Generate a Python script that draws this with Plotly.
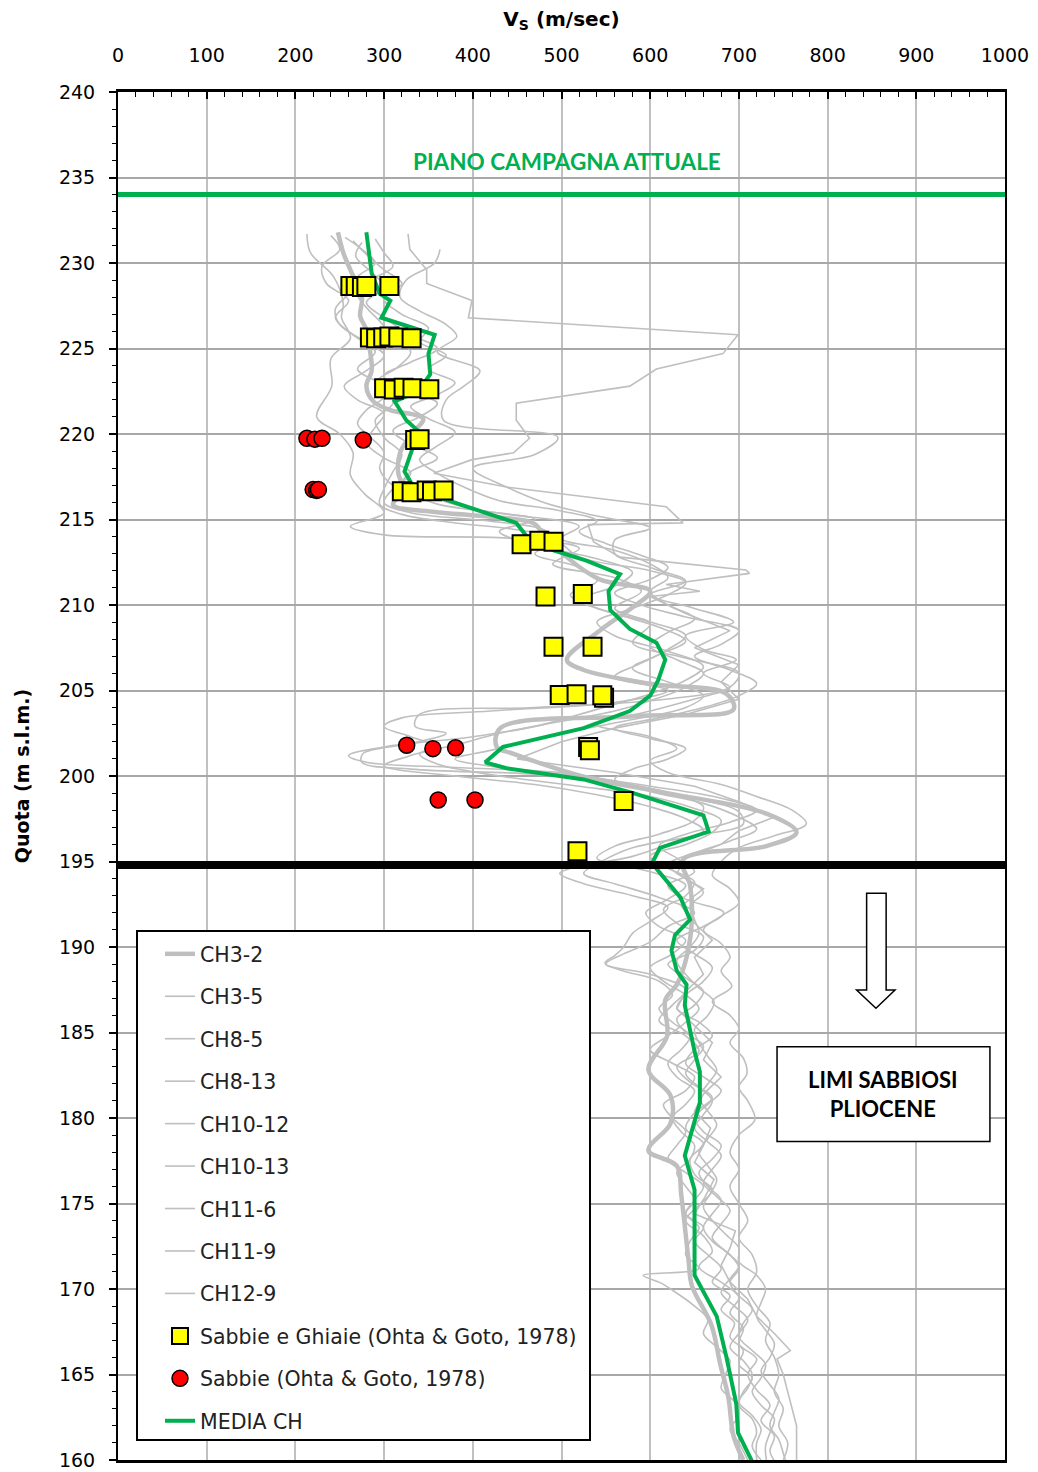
import plotly.graph_objects as go

# ---------------- DATA ----------------
# Shear-wave velocity profiles (Vs in m/s) versus elevation (m s.l.m.)
CH3_2_DEPTH = [231.8, 230.6, 229.6, 228.0, 226.9, 226.1, 224.9, 223.7, 222.8, 221.9,
               221.4, 220.9, 220.0, 218.9, 217.7, 216.7, 215.85, 215.45, 214.8, 214.4,
               212.8, 211.5, 210.8, 209.9, 208.5, 206.8, 206.2, 205.4, 204.8, 203.9,
               203.5, 202.8, 201.7, 201.3, 199.96, 199.0, 197.8, 196.7, 195.9, 195.1,
               193.6, 191.6, 189.4, 187.8, 186.9, 184.8, 182.8, 181.3, 179.7, 178.1,
               177.2, 175.5, 171.8, 170.2, 167.9, 165.6, 163.7, 161.4, 160.0]
CH3_2_VS = [248, 254, 262, 275, 273, 280, 284, 286, 280, 288,
            307, 344, 331, 318, 316, 322, 310, 355, 468, 476,
            506, 543, 600, 581, 543, 506, 525, 600, 686, 694,
            581, 431, 427, 446, 525, 619, 731, 765, 731, 637,
            645, 647, 641, 630, 617, 619, 598, 623, 623, 598,
            630, 635, 643, 647, 669, 679, 688, 694, 705]

CH3_5_DEPTH = [231.7, 230.6, 229.2, 227.6, 226.8, 225.6, 224.4, 222.8, 221.0, 220.0,
               218.9, 217.6, 216.5, 215.4, 214.6, 214.1, 213.9, 213.3, 212.4, 211.6,
               210.8, 209.8, 208.9, 207.8, 206.9, 206.0, 205.2, 204.5, 204.0, 203.6,
               202.9, 202.5, 201.9, 201.3, 200.8, 200.4, 200.1, 199.6, 198.8, 197.9,
               197.2, 196.5, 195.8, 195.0, 194.3, 193.7, 192.9, 192.0, 191.2, 190.3,
               189.6, 189.0, 188.4, 187.5, 186.6, 185.7, 184.8, 183.9, 183.0, 182.1,
               181.2, 180.3, 179.4, 178.5, 177.6, 176.7, 175.8, 174.9, 174.0, 173.1,
               172.2, 171.3, 170.4, 169.5, 168.6, 167.7, 166.8, 165.9, 165.0, 164.1,
               163.2, 162.3, 161.4, 160.5, 159.6]
CH3_5_VS = [213, 217, 243, 254, 252, 262, 240, 241, 224, 250,
            265, 262, 278, 300, 262, 300, 440, 520, 490, 560,
            590, 560, 600, 580, 640, 700, 690, 620, 470, 340,
            335, 370, 330, 276, 275, 330, 470, 560, 640, 700,
            705, 650, 580, 545, 525, 560, 610, 650, 620, 600,
            570, 550, 600, 640, 625, 610, 640, 655, 630, 645,
            670, 650, 640, 660, 645, 650, 670, 655, 640, 660,
            670, 655, 680, 700, 690, 705, 700, 720, 710, 720,
            735, 725, 740, 735, 745]

CH8_5_DEPTH = [231.5, 230.8, 230.0, 229.2, 228.3, 227.3, 226.4, 225.5, 224.6, 223.7,
               222.8, 222.0, 221.2, 220.4, 219.5, 218.6, 217.7, 216.8, 216.0, 215.4,
               214.9, 214.4, 213.6, 212.8, 212.0, 211.3, 210.6, 209.8, 209.0, 208.2,
               207.3, 206.4, 205.6, 204.8, 204.2, 203.6, 202.9, 202.3, 201.7, 201.2,
               200.8, 200.5, 200.2, 199.7, 199.0, 198.2, 197.4, 196.6, 195.9, 195.2,
               194.4, 193.6, 192.8, 192.0, 191.2, 190.4, 189.6, 188.8, 188.0, 187.2,
               186.4, 185.6, 184.8, 184.0, 183.2, 182.4, 181.6, 180.8, 180.0, 179.2,
               178.4, 177.6, 176.8, 176.0, 175.2, 174.4, 173.6, 172.8, 172.0, 171.2,
               170.4, 169.6, 168.8, 168.0, 167.2, 166.4, 165.6, 164.8, 164.0, 163.2,
               162.4, 161.6, 160.8, 160.0]
CH8_5_VS = [256, 275, 290, 270, 262, 245, 250, 275, 300, 280,
            255, 270, 300, 290, 280, 300, 330, 310, 300, 330,
            420, 480, 500, 520, 600, 640, 620, 580, 540, 560,
            620, 660, 640, 600, 560, 520, 470, 400, 300, 260,
            280, 380, 500, 560, 620, 660, 650, 610, 560, 540,
            600, 640, 620, 595, 610, 640, 625, 600, 615, 640,
            655, 640, 620, 600, 625, 650, 640, 615, 625, 640,
            630, 620, 640, 660, 650, 640, 660, 650, 665, 680,
            670, 690, 680, 695, 690, 705, 700, 715, 705, 700,
            715, 720, 715, 725]

CH8_13_DEPTH = [231.7, 230.8, 229.6, 228.8, 227.8, 226.8, 225.8, 224.7, 223.8, 222.8,
                221.8, 220.8, 219.75, 218.9, 218.5, 217.7, 216.9, 215.75, 214.8, 214.7,
                213.7, 212.8, 212.05, 211.85, 211.2, 210.8, 210.5, 209.5, 208.5, 207.5,
                206.5, 205.5, 204.5, 203.6, 202.8, 202.0, 201.0, 200.2, 199.4, 198.5,
                197.6, 196.8, 196.0, 195.2, 194.3, 193.4, 192.4, 191.4, 190.4, 189.4,
                188.4, 187.4, 186.4, 185.4, 184.4, 183.4, 182.4, 181.4, 180.4, 179.4,
                178.4, 177.4, 176.4, 175.4, 174.4, 173.4, 172.4, 171.4, 170.4, 169.4,
                168.4, 167.4, 166.4, 165.9, 165.0, 164.0, 163.0, 162.0, 161.0, 160.0]
CH8_13_VS = [327, 329, 348, 348, 399, 395, 699, 682, 607, 577,
             449, 449, 464, 446, 399, 356, 438, 618, 637, 530,
             536, 566, 708, 712, 618, 656, 600, 640, 690, 650,
             700, 680, 700, 640, 560, 500, 450, 560, 650, 700,
             740, 700, 680, 640, 630, 660, 635, 650, 670, 650,
             660, 640, 630, 650, 670, 660, 680, 660, 650, 668,
             660, 650, 672, 662, 650, 696, 690, 680, 690, 710,
             720, 740, 758, 743, 750, 755, 760, 765, 765, 765]

CH10_12_DEPTH = [231.2, 230.4, 229.5, 228.6, 227.7, 226.8, 225.8, 225.0, 224.2, 223.4,
                 222.6, 221.8, 221.0, 220.2, 219.4, 218.6, 217.8, 217.0, 216.2, 215.6,
                 215.0, 214.3, 213.5, 212.7, 211.9, 211.1, 210.3, 209.5, 208.7, 207.9,
                 207.1, 206.3, 205.5, 204.7, 204.0, 203.3, 202.7, 202.1, 201.5, 201.0,
                 200.5, 200.0, 199.4, 198.7, 198.0, 197.3, 196.6, 195.9, 195.2, 194.4,
                 193.6, 192.8, 192.0, 191.2, 190.4, 189.6, 188.8, 188.0, 187.2, 186.4,
                 185.6, 184.8, 184.0, 183.2, 182.4, 181.6, 180.8, 180.0, 179.2, 178.4,
                 177.6, 176.8, 176.0, 175.2, 174.4, 173.6, 172.8, 172.0, 171.2, 170.4,
                 169.6, 168.8, 168.0, 167.2, 166.4, 165.6, 164.8, 164.0, 163.2, 162.4,
                 161.6, 160.8, 160.0]
CH10_12_VS = [275, 268, 285, 300, 280, 300, 330, 360, 330, 300,
              320, 360, 340, 310, 330, 360, 330, 320, 360, 400,
              470, 430, 470, 540, 580, 560, 520, 560, 610, 640,
              610, 580, 620, 660, 640, 580, 520, 470, 420, 380,
              430, 520, 600, 680, 720, 690, 640, 610, 630, 650,
              620, 640, 683, 660, 630, 650, 670, 660, 640, 630,
              655, 670, 650, 640, 660, 680, 665, 650, 660, 680,
              670, 655, 665, 680, 670, 660, 670, 690, 700, 690,
              700, 715, 705, 700, 715, 730, 725, 715, 725, 740,
              735, 730, 731]

CH10_13_DEPTH = [230.8, 230.0, 229.0, 228.0, 227.2, 226.4, 225.7, 224.8, 223.7, 222.8,
                 222.0, 220.8, 219.8, 218.8, 218.0, 216.9, 216.0, 215.2, 214.5, 213.8,
                 213.0, 212.2, 211.4, 210.6, 209.8, 209.0, 208.2, 207.4, 206.8, 206.0,
                 205.2, 204.5, 203.8, 203.0, 202.3, 201.6, 200.9, 200.2, 199.5, 198.8,
                 198.0, 197.2, 196.5, 195.8, 195.0, 194.2, 193.4, 192.6, 191.8, 191.0,
                 190.2, 189.4, 188.6, 187.7, 186.8, 186.0, 185.2, 184.4, 183.5, 182.6,
                 181.8, 181.0, 179.9, 179.0, 178.0, 177.0, 176.0, 175.0, 174.0, 173.0,
                 172.0, 171.0, 170.0, 169.0, 168.0, 167.0, 166.0, 165.0, 164.0, 163.0,
                 162.0, 161.0, 160.0]
CH10_13_VS = [363, 357, 325, 318, 340, 370, 382, 360, 408, 390,
              370, 367, 496, 470, 400, 438, 480, 540, 600, 560,
              560, 600, 640, 600, 650, 694, 640, 660, 697, 660,
              690, 650, 600, 540, 600, 630, 600, 620, 680, 720,
              760, 776, 740, 700, 680, 670, 690, 700, 680, 660,
              680, 690, 680, 692, 670, 690, 700, 690, 705, 709,
              700, 710, 718, 700, 690, 700, 690, 700, 710, 700,
              715, 720, 710, 720, 735, 730, 740, 745, 740, 750,
              745, 755, 750]

CH11_6_DEPTH = [231.6, 230.8, 229.8, 228.8, 227.8, 226.8, 225.8, 224.8, 223.8, 222.8,
                221.8, 220.8, 219.8, 218.8, 217.8, 216.8, 215.9, 215.3, 214.8, 214.4,
                213.8, 213.0, 212.2, 211.4, 210.6, 209.8, 209.0, 208.2, 207.4, 206.6,
                205.8, 205.0, 204.3, 203.8, 203.4, 202.9, 202.3, 201.7, 201.2, 200.6,
                200.0, 199.5, 198.9, 198.2, 197.5, 196.8, 196.0, 195.3, 194.6, 194.3,
                193.7, 193.0, 192.3, 191.5, 190.8, 190.0, 189.5, 189.05, 188.6, 188.0,
                187.2, 186.4, 185.6, 184.8, 184.0, 183.2, 182.4, 181.6, 180.8, 180.0,
                179.2, 178.4, 177.6, 176.8, 176.0, 175.2, 174.4, 173.6, 172.8, 172.0,
                171.2, 170.8, 170.4, 169.9, 169.0, 168.2, 167.4, 166.6, 165.8, 165.0,
                164.2, 163.4, 162.6, 161.8, 161.0, 160.0]
CH11_6_VS = [240, 250, 230, 235, 260, 245, 265, 290, 270, 300,
             310, 290, 300, 320, 310, 300, 295, 320, 380, 450,
             500, 470, 520, 540, 510, 540, 600, 640, 620, 590,
             560, 620, 560, 420, 320, 300, 330, 360, 330, 300,
             380, 470, 540, 600, 640, 660, 620, 580, 510, 498,
             525, 580, 620, 600, 580, 570, 560, 549, 570, 610,
             625, 610, 625, 645, 635, 620, 630, 650, 640, 625,
             635, 650, 645, 630, 640, 650, 640, 655, 645, 640,
             655, 592, 610, 626, 650, 665, 660, 675, 690, 685,
             680, 695, 700, 690, 700, 710]

CH11_9_DEPTH = [231.4, 230.6, 229.8, 229.0, 228.2, 227.4, 226.6, 225.7, 224.8, 223.9,
                223.0, 222.2, 221.4, 220.6, 219.8, 218.9, 218.0, 217.2, 216.5, 215.9,
                215.3, 214.6, 213.9, 213.2, 212.4, 211.6, 210.8, 210.0, 209.2, 208.4,
                207.6, 206.8, 206.0, 205.2, 204.4, 203.8, 203.2, 202.5, 201.8, 201.3,
                200.7, 200.0, 199.4, 198.8, 198.1, 197.4, 196.7, 196.0, 195.3, 194.6,
                193.8, 193.0, 192.2, 191.4, 190.6, 189.8, 189.0, 188.2, 187.4, 186.6,
                185.8, 185.0, 184.2, 183.4, 182.6, 181.8, 181.0, 180.2, 179.4, 178.6,
                177.8, 177.0, 176.2, 175.4, 174.6, 173.8, 173.0, 172.2, 171.4, 170.6,
                169.8, 169.0, 168.2, 167.4, 166.6, 165.8, 165.0, 164.2, 163.4, 162.6,
                161.8, 161.0, 160.0]
CH11_9_VS = [290, 300, 310, 285, 270, 280, 295, 310, 330, 315,
             290, 300, 280, 270, 285, 300, 295, 305, 330, 360,
             440, 520, 500, 560, 600, 620, 600, 620, 650, 620,
             600, 630, 660, 640, 600, 560, 500, 430, 380, 340,
             360, 430, 520, 600, 650, 680, 670, 640, 600, 620,
             650, 640, 615, 630, 660, 650, 620, 640, 660, 650,
             630, 640, 660, 650, 640, 655, 670, 660, 650, 665,
             680, 670, 660, 675, 690, 680, 670, 685, 700, 690,
             680, 695, 710, 700, 690, 705, 715, 710, 700, 715,
             725, 720, 720]

CH12_9_DEPTH = [231.3, 230.5, 229.6, 228.8, 227.9, 227.0, 226.2, 225.4, 224.6, 223.8,
                223.0, 222.3, 221.6, 220.9, 220.1, 219.3, 218.5, 217.7, 216.9, 216.1,
                215.5, 214.9, 214.3, 213.6, 212.9, 212.2, 211.5, 210.7, 210.0, 209.3,
                208.5, 207.7, 207.0, 206.2, 205.4, 204.7, 204.0, 203.4, 202.8, 202.2,
                201.6, 201.0, 200.4, 199.8, 199.1, 198.4, 197.6, 196.9, 196.2, 195.5,
                194.8, 194.0, 193.2, 192.4, 191.6, 190.8, 190.0, 189.2, 188.4, 187.6,
                186.8, 186.0, 185.2, 184.4, 183.6, 182.8, 182.0, 181.2, 180.4, 179.6,
                178.8, 178.0, 177.2, 176.4, 175.6, 174.8, 174.0, 173.2, 172.4, 171.6,
                170.8, 170.0, 169.2, 168.4, 167.6, 166.8, 166.0, 165.2, 164.4, 163.6,
                162.8, 162.0, 161.2, 160.4, 159.6]
CH12_9_VS = [265, 280, 300, 320, 300, 320, 350, 340, 370, 350,
             380, 360, 330, 350, 380, 360, 340, 360, 390, 430,
             500, 540, 520, 550, 590, 620, 600, 560, 590, 640,
             700, 680, 650, 690, 720, 700, 660, 610, 560, 600,
             640, 620, 580, 560, 600, 660, 700, 720, 690, 650,
             620, 640, 660, 645, 650, 655, 645, 630, 640, 655,
             672, 665, 650, 655, 665, 675, 665, 655, 665, 675,
             665, 655, 665, 675, 668, 660, 670, 685, 700, 700,
             720, 730, 725, 720, 730, 740, 735, 725, 735, 745,
             740, 735, 745, 750, 755]

# Mean profile (MEDIA CH)
MEDIA_DEPTH = [231.8, 229.4, 228.2, 227.8, 226.8, 226.1, 225.8, 224.7, 223.5, 222.9,
               222.2, 221.9, 220.8, 220.2, 219.3, 217.8, 217.1, 216.2, 215.0, 214.8,
               214.0, 213.2, 212.6, 211.8, 210.8, 209.7, 208.6, 207.8, 206.8, 205.6,
               204.7, 203.8, 202.8, 201.7, 200.8, 200.45, 199.8, 199.0, 197.7, 196.75,
               195.8, 194.9, 192.9, 191.6, 190.7, 189.8, 188.6, 187.8, 186.6, 185.0,
               183.9, 182.7, 180.9, 177.8, 175.8, 170.8, 168.4, 166.0, 163.3, 161.6,
               159.8]
MEDIA_VS = [280, 286, 295, 307, 297, 340, 357, 350, 352, 344,
            325, 312, 325, 338, 333, 323, 331, 367, 438, 449,
            461, 491, 528, 566, 553, 555, 577, 607, 617, 609,
            600, 577, 525, 434, 414, 438, 525, 581, 660, 666,
            611, 602, 634, 645, 628, 624, 630, 641, 639, 645,
            650, 656, 656, 639, 650, 650, 675, 686, 697, 699,
            716]

# Ohta & Goto (1978) estimates
GHIAIE_VS = [262, 268, 275, 280, 306,
             284, 291, 299, 306, 316, 331,
             300, 311, 322, 332, 351,
             335, 340,
             320, 331, 348, 354, 367,
             455, 475, 491,
             482, 524,
             491, 535,
             498, 517, 548, 546,
             530, 532,
             570, 518]
GHIAIE_DEPTH = [228.65, 228.65, 228.6, 228.65, 228.65,
                225.65, 225.6, 225.65, 225.7, 225.65, 225.6,
                222.67, 222.6, 222.7, 222.67, 222.62,
                219.65, 219.7,
                216.65, 216.6, 216.7, 216.65, 216.7,
                213.55, 213.75, 213.7,
                210.5, 210.65,
                207.56, 207.56,
                204.74, 204.78, 204.58, 204.72,
                201.7, 201.5,
                198.54, 195.6]
SABBIE_VS = [213, 222, 230, 276.5, 220, 224, 226, 325.5, 355, 380.6, 361, 402.5]
SABBIE_DEPTH = [219.75, 219.7, 219.75, 219.65, 216.75, 216.7, 216.75, 201.8, 201.6, 201.65, 198.6, 198.6]

# Reference levels
PIANO_CAMPAGNA = 234.0
TETTO_PLIOCENE = 194.8

X_RANGE = [0, 1000]
Y_RANGE = [160, 240]

# ---------------- FIGURE ----------------
GRAY = '#bfbfbf'
GREEN = '#00b050'
FONT = 'DejaVu Sans'

fig = go.Figure()

fig.add_trace(go.Scatter(x=CH3_2_VS, y=CH3_2_DEPTH, mode='lines', name='CH3-2',
                         line=dict(color=GRAY, width=4.5, shape='spline', smoothing=1.0),
                         legendgroup='a1', legendrank=1))

thin = [('CH3-5', CH3_5_VS, CH3_5_DEPTH, 'spline'),
        ('CH8-5', CH8_5_VS, CH8_5_DEPTH, 'spline'),
        ('CH8-13', CH8_13_VS, CH8_13_DEPTH, 'linear'),
        ('CH10-12', CH10_12_VS, CH10_12_DEPTH, 'spline'),
        ('CH10-13', CH10_13_VS, CH10_13_DEPTH, 'spline'),
        ('CH11-6', CH11_6_VS, CH11_6_DEPTH, 'spline'),
        ('CH11-9', CH11_9_VS, CH11_9_DEPTH, 'spline'),
        ('CH12-9', CH12_9_VS, CH12_9_DEPTH, 'spline')]
for i, (nm, xs, ys, shp) in enumerate(thin):
    ln = dict(color=GRAY, width=1.6, shape=shp)
    if shp == 'spline':
        ln['smoothing'] = 1.0
    fig.add_trace(go.Scatter(x=xs, y=ys, mode='lines', name=nm, line=ln,
                             legendgroup='a%d' % (i + 2), legendrank=i + 2))

fig.add_trace(go.Scatter(x=MEDIA_VS, y=MEDIA_DEPTH, mode='lines', name='MEDIA CH',
                         line=dict(color=GREEN, width=4),
                         legendgroup='a12', legendrank=12))

fig.add_trace(go.Scatter(x=GHIAIE_VS, y=GHIAIE_DEPTH, mode='markers',
                         name='Sabbie e Ghiaie (Ohta & Goto, 1978)',
                         marker=dict(symbol='square', size=18, color='#ffff00',
                                     line=dict(color='black', width=2)),
                         legendgroup='a10', legendrank=10))
fig.add_trace(go.Scatter(x=SABBIE_VS, y=SABBIE_DEPTH, mode='markers',
                         name='Sabbie (Ohta & Goto, 1978)',
                         marker=dict(symbol='circle', size=16, color='#ff0000',
                                     line=dict(color='black', width=1.5)),
                         legendgroup='a11', legendrank=11))

# plot area geometry in pixels (for paper-coordinate helpers)
L, R, T, B = 118, 1005, 92, 1460
W, H = 1038, 1472


def px_x(p):
    return (p - L) / (R - L)


def px_y(p):
    return (B - p) / (B - T)


shapes = [
    # ground level
    dict(type='line', xref='x', yref='y', x0=X_RANGE[0], x1=X_RANGE[1],
         y0=PIANO_CAMPAGNA, y1=PIANO_CAMPAGNA, line=dict(color=GREEN, width=5), layer='above'),
    # top of Pliocene silts
    dict(type='line', xref='x', yref='y', x0=X_RANGE[0], x1=X_RANGE[1],
         y0=TETTO_PLIOCENE, y1=TETTO_PLIOCENE, line=dict(color='black', width=8), layer='above'),
    # legend frame
    dict(type='rect', xref='paper', yref='paper', x0=px_x(137), x1=px_x(590),
         y0=px_y(1440), y1=px_y(931), fillcolor='white',
         line=dict(color='black', width=2), layer='above'),
    # label box
    dict(type='rect', xref='x', yref='y', x0=743, x1=983, y0=178.62, y1=184.17,
         fillcolor='white', line=dict(color='black', width=1.5), layer='above'),
    # hollow down arrow
    dict(type='path', xref='x', yref='y',
         path='M 844 193.14 L 866 193.14 L 866 187.49 L 876 187.49 L 854.5 186.42 '
              'L 832.7 187.49 L 844 187.49 Z',
         fillcolor='white', line=dict(color='black', width=1.5), layer='above'),
]

annotations = [
    dict(x=506, y=235.96, xref='x', yref='y', text='<b>PIANO CAMPAGNA ATTUALE</b>',
         showarrow=False, font=dict(family='Lato', size=22.5, color=GREEN)),
    dict(x=862.5, y=181.4, xref='x', yref='y', text='<b>LIMI SABBIOSI<br>PLIOCENE</b>',
         showarrow=False, font=dict(family='Lato', size=22, color='black'), align='center'),
]

fig.update_layout(
    width=W, height=H,
    margin=dict(l=L, r=W - R, t=T, b=H - B, autoexpand=False),
    paper_bgcolor='white', plot_bgcolor='white',
    font=dict(family=FONT, size=18, color='black'),
    showlegend=True,
    legend=dict(x=px_x(160), y=px_y(934), xanchor='left', yanchor='top',
                bgcolor='rgba(0,0,0,0)', borderwidth=0,
                font=dict(family=FONT, size=20.5, color='#222222'),
                tracegroupgap=12.8, traceorder='grouped'),
    shapes=shapes,
    annotations=annotations,
    xaxis=dict(side='top', range=X_RANGE, dtick=100, tick0=0, automargin=False,
               showgrid=True, gridcolor='#c0c0c0', gridwidth=2,
               showline=True, linecolor='black', linewidth=2.5, mirror=True,
               ticks='inside', ticklen=7, tickwidth=1.5, tickcolor='black',
               minor=dict(dtick=20, ticks='inside', ticklen=5, tickwidth=1.2,
                          tickcolor='black', showgrid=False),
               tickfont=dict(size=19), ticklabelstandoff=20, zeroline=False,
               title=dict(text='<b>V<sub>S</sub> (m/sec)</b>', font=dict(size=20), standoff=12)),
    yaxis=dict(range=Y_RANGE, dtick=5, tick0=160, automargin=False,
               showgrid=True, gridcolor='#a8a8a8', gridwidth=2,
               showline=True, linecolor='black', linewidth=2, mirror=True,
               ticks='outside', ticklen=7, tickwidth=1.5, tickcolor='black',
               minor=dict(dtick=1, ticks='outside', ticklen=4, tickwidth=1.2,
                          tickcolor='black', showgrid=False),
               tickfont=dict(size=19), ticklabelstandoff=10, zeroline=False,
               title=dict(text='<b>Quota (m s.l.m.)</b>', font=dict(size=19), standoff=24)),
)

fig.write_html('out.html')
